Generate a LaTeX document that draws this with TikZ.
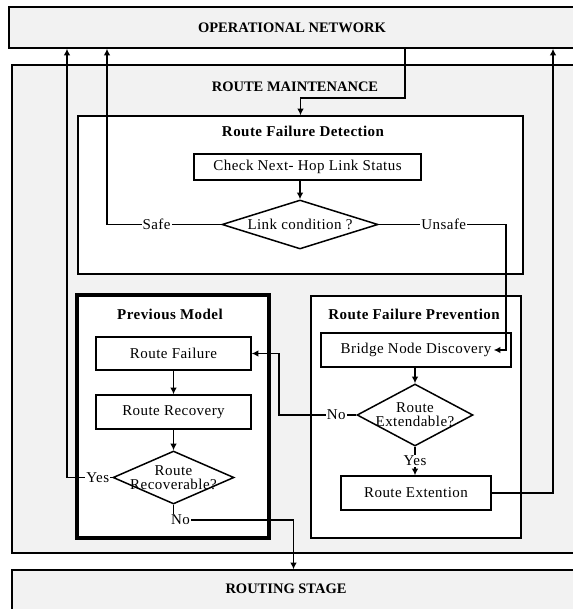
\documentclass[tikz,border=0pt]{standalone}
\usepackage{fontspec}
\setmainfont{Liberation Serif}
\newfontfamily\airy{Liberation Serif}[LetterSpace=3]
\usepackage{tikz}
\usetikzlibrary{arrows.meta}
\usetikzlibrary{shapes.geometric}
\definecolor{panel}{HTML}{F2F2F2}

\begin{document}
\begin{tikzpicture}[x=1pt,y=-1pt]
\tikzset{>={Latex[width=2.3mm,length=2.3mm]}}
\tikzstyle{stage} =[draw, fill=panel, line width=1.5pt, inner sep=0pt]
\tikzstyle{frame} =[draw, fill=white, line width=1.5pt, inner sep=0pt]
\tikzstyle{block} =[draw, fill=white, line width=1.5pt, inner sep=0pt, font=\airy\fontsize{15}{16}\selectfont]
\tikzstyle{decision} =[diamond, draw, fill=white, line width=1.5pt, inner sep=0pt, align=center, font=\airy\fontsize{15}{14}\selectfont]
\tikzstyle{capstitle} =[font=\fontsize{14.5}{16}\selectfont\bfseries]
\tikzstyle{title} =[font=\airy\fontsize{15}{16}\selectfont\bfseries]
\tikzstyle{lbl} =[fill=white, inner sep=1pt, font=\airy\fontsize{15}{16}\selectfont]
\tikzstyle{flow} =[->, line width=1.8pt]

\useasboundingbox (0,0) rectangle (572,609);

% stages
\node[stage, capstitle, minimum width=566, minimum height=41] (on) at (292,27.5) {OPERATIONAL NETWORK};
\node[stage, minimum width=563, minimum height=488] (rm) at (293.5,309) {};
\node[capstitle] (rmtitle) at (295,87) {ROUTE MAINTENANCE};
\node[stage, minimum width=563, minimum height=50] (rs) at (293.5,595) {};
\node[capstitle] (rstitle) at (286,589) {ROUTING STAGE};

% frames
\node[frame, minimum width=445, minimum height=158] (rfd) at (300.5,195) {};
\node[title] (rfdtitle) at (303,131) {Route Failure Detection};
\node[frame, line width=3.8pt, minimum width=192, minimum height=243] (prev) at (173,416.5) {};
\node[title] (prevtitle) at (170,314) {Previous Model};
\node[frame, minimum width=210, minimum height=242] (rfp) at (416,417) {};
\node[title] (rfptitle) at (414,314) {Route Failure Prevention};

% steps
\node[block, minimum width=227, minimum height=26] (chk) at (307.5,167) {Check Next- Hop Link Status};
\node[decision, aspect=3.2, minimum width=156, minimum height=49] (link) at (300,224.5) {Link condition ?};
\node[block, minimum width=155, minimum height=33] (rf) at (173.5,353.5) {Route Failure};
\node[block, minimum width=155, minimum height=34] (rr) at (173.5,412) {Route Recovery};
\node[decision, minimum width=121, minimum height=53] (rec) at (173.5,477.5) {\makebox[0pt]{Route}\\\makebox[0pt]{Recoverable?}};
\node[block, minimum width=190, minimum height=34] (bnd) at (416,350) {Bridge Node Discovery};
\node[decision, minimum width=116, minimum height=62] (ext) at (415,415) {\makebox[0pt]{Route}\\\makebox[0pt]{Extendable?}};
\node[block, minimum width=150, minimum height=34] (rext) at (416,493) {Route Extention};

% connectors
\draw[flow] ([xshift=113pt]on.south) -- ++(0,49) -| (rfd.north);
\draw[flow] (chk.south -| link.north) -- (link.north);
\draw[flow] (link.west) -| node[lbl,pos=0.283] (safe) {Safe} ([xshift=-185pt]on.south);
\draw[flow] (link.east) -| node[lbl,pos=0.256] (unsafe) {Unsafe} ++(127,125.5) -- ([xshift=-18pt]bnd.east);
\draw[flow] (bnd.south -| ext.north) -- (ext.north);
\draw[flow] (ext.west) -- node[lbl,pos=0.26] (extno) {No} ++(-77,0) |- (rf.east);
\draw[flow] (ext.south) -- node[lbl] (extyes) {Yes} (rext.north -| ext.south);
\draw[flow] (rext.east) -| ([xshift=261pt]on.south);
\draw[flow] (rf) -- (rr);
\draw[flow] (rr) -- (rec);
\draw[flow] (rec.west) -| node[lbl,pos=0.16] (recyes) {Yes} ([xshift=-225pt]on.south);
\draw[flow] (rec.south) -- ++(0,15) node[lbl,xshift=7pt] (recno) {No} -| (rs.north);
\end{tikzpicture}
\end{document}
